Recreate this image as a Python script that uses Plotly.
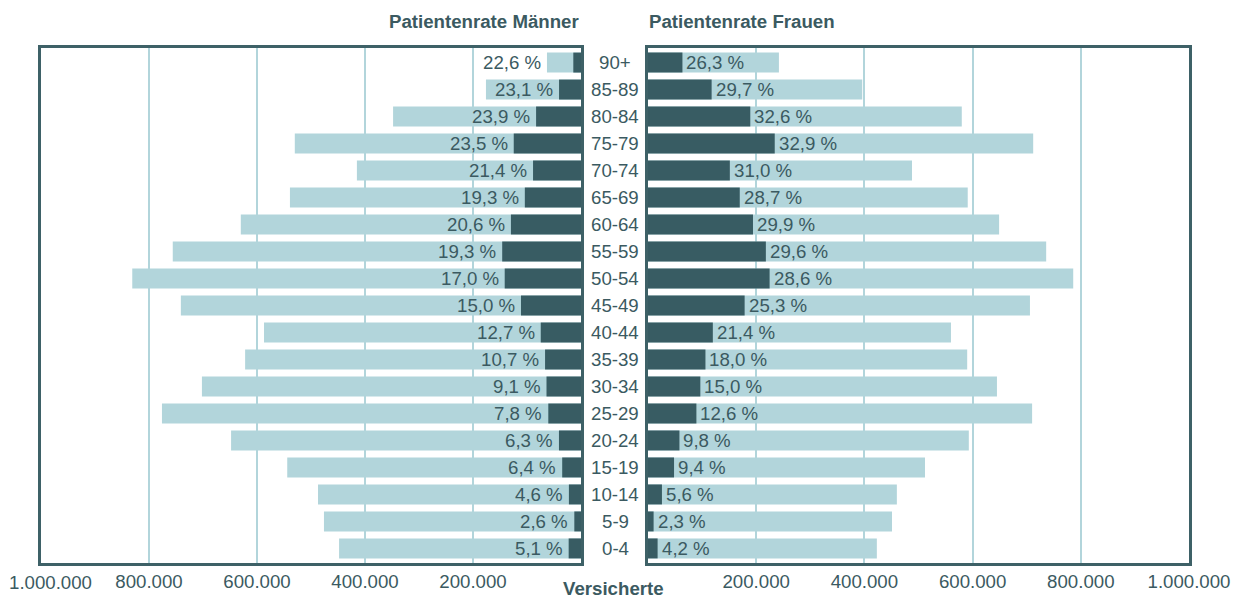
import plotly.graph_objects as go

# ---------------- data ----------------
age_groups = ["0-4", "5-9", "10-14", "15-19", "20-24", "25-29", "30-34", "35-39",
              "40-44", "45-49", "50-54", "55-59", "60-64", "65-69", "70-74",
              "75-79", "80-84", "85-89", "90+"]
insured_men = [448000, 476000, 487000, 544000, 648000, 776000, 702000, 622000,
               587000, 741000, 831000, 756000, 630000, 539000, 415000, 530000,
               348000, 176000, 63000]
insured_women = [423000, 451000, 460000, 512000, 593000, 710000, 645000, 590000,
                 560000, 706000, 786000, 736000, 649000, 591000, 488000, 712000,
                 580000, 396000, 242000]
rate_men = [5.1, 2.6, 4.6, 6.4, 6.3, 7.8, 9.1, 10.7, 12.7, 15.0, 17.0, 19.3,
            20.6, 19.3, 21.4, 23.5, 23.9, 23.1, 22.6]
rate_women = [4.2, 2.3, 5.6, 9.4, 9.8, 12.6, 15.0, 18.0, 21.4, 25.3, 28.6, 29.6,
              29.9, 28.7, 31.0, 32.9, 32.6, 29.7, 26.3]
tick_values = [200000, 400000, 600000, 800000, 1000000]
tick_labels = ["200.000", "400.000", "600.000", "800.000", "1.000.000"]

patients_men = [i * r / 100 for i, r in zip(insured_men, rate_men)]
patients_women = [i * r / 100 for i, r in zip(insured_women, rate_women)]


def fmt(r):
    return f"{r:.1f}".replace(".", ",") + " %"


# ---------------- style ----------------
W, H = 1239, 599
DARK = "#385c63"
LIGHT = "#b2d5db"
TEXT = "#3b5a61"
FRAME = "#3e6167"
FONT = "Liberation Sans, Arial, sans-serif"
FS = 18.67
PX_PER_UNIT = 540 / 1000000   # horizontal pixels per insured person
LABEL_PX = 62                 # approx. width of a percentage label

fig = go.Figure()

# left (men)
fig.add_trace(go.Bar(x=insured_men, y=age_groups, orientation="h", marker_color=LIGHT,
                     marker_line_width=0, width=0.74, xaxis="x", yaxis="y",
                     showlegend=False))
fig.add_trace(go.Bar(x=patients_men, y=age_groups, orientation="h", marker_color=DARK,
                     marker_line_width=0, width=0.74, xaxis="x", yaxis="y",
                     showlegend=False))
# right (women)
fig.add_trace(go.Bar(x=insured_women, y=age_groups, orientation="h", marker_color=LIGHT,
                     marker_line_width=0, width=0.74, xaxis="x2", yaxis="y2",
                     showlegend=False))
fig.add_trace(go.Bar(x=patients_women, y=age_groups, orientation="h", marker_color=DARK,
                     marker_line_width=0, width=0.74, xaxis="x2", yaxis="y2",
                     showlegend=False))

ydom = [36 / H, 551 / H]
xcommon = dict(showline=True, mirror=True, linecolor=FRAME, linewidth=3,
               showgrid=True, gridcolor=LIGHT, gridwidth=2, zeroline=False,
               tickmode="array", tickvals=tick_values, ticktext=tick_labels,
               ticks="", tickfont=dict(size=FS, color=TEXT, family=FONT),
               ticklabeloverflow="allow", automargin=False, fixedrange=True)
ycommon = dict(type="category", categoryorder="array", categoryarray=age_groups,
               range=[-0.54, 18.54], showticklabels=False, showgrid=False,
               zeroline=False, showline=True, mirror=True, linecolor=FRAME,
               linewidth=3, ticks="", domain=ydom, automargin=False,
               fixedrange=True)

fig.update_layout(
    template="none",
    width=W, height=H,
    margin=dict(l=0, r=0, t=0, b=0, autoexpand=False),
    paper_bgcolor="white", plot_bgcolor="white",
    barmode="overlay",
    showlegend=False,
    font=dict(family=FONT, size=FS, color=TEXT),
    xaxis=dict(domain=[41 / W, 581 / W], range=[1000000, 0], anchor="y", **xcommon),
    xaxis2=dict(domain=[648 / W, 1189 / W], range=[0, 1000000], anchor="y2", **xcommon),
    yaxis=dict(anchor="x", **ycommon),
    yaxis2=dict(anchor="x2", **ycommon),
)
# the outermost left tick label is drawn shifted inwards, as in the original
fig.update_xaxes(tickvals=tick_values[:-1], ticktext=tick_labels[:-1], selector=dict(anchor="y"))
fig.add_annotation(x=tick_values[-1], xref="x", y=1 - 582 / H, yref="paper",
                   text=tick_labels[-1], showarrow=False, xanchor="center",
                   yanchor="middle", xshift=9, borderpad=0,
                   font=dict(size=FS, color=TEXT, family=FONT))


def label_anchor(p, ins):
    # label sits next to the patient bar; if it does not fit in the
    # remaining light bar, it is placed beyond the light bar
    if (ins - p) * PX_PER_UNIT < LABEL_PX:
        return ins
    return p


# percentage labels next to the patient bars
for g, p, ins, r in zip(age_groups, patients_men, insured_men, rate_men):
    fig.add_annotation(x=label_anchor(p, ins), y=g, xref="x", yref="y", text=fmt(r),
                       showarrow=False, xanchor="right", yanchor="middle", xshift=-4,
                       font=dict(size=FS, color=TEXT, family=FONT))
for g, p, ins, r in zip(age_groups, patients_women, insured_women, rate_women):
    fig.add_annotation(x=label_anchor(p, ins), y=g, xref="x2", yref="y2", text=fmt(r),
                       showarrow=False, xanchor="left", yanchor="middle", xshift=2,
                       font=dict(size=FS, color=TEXT, family=FONT))

# category labels between panels
for g in age_groups:
    fig.add_annotation(x=615 / W, xref="paper", y=g, yref="y", text=g,
                       showarrow=False, xanchor="center", yanchor="middle",
                       font=dict(size=FS, color=TEXT, family=FONT))

# titles
fig.add_annotation(x=581 / W, y=1 - 22 / H, xref="paper", yref="paper",
                   text="<b>Patientenrate Männer</b>", showarrow=False,
                   xanchor="right", yanchor="middle",
                   font=dict(size=FS, color=TEXT, family=FONT))
fig.add_annotation(x=647 / W, y=1 - 22 / H, xref="paper", yref="paper",
                   text="<b>Patientenrate Frauen</b>", showarrow=False,
                   xanchor="left", yanchor="middle",
                   font=dict(size=FS, color=TEXT, family=FONT))
fig.add_annotation(x=613 / W, y=1 - 588 / H, xref="paper", yref="paper",
                   text="<b>Versicherte</b>", showarrow=False,
                   xanchor="center", yanchor="middle", borderpad=0,
                   font=dict(size=FS, color=TEXT, family=FONT))

fig.write_html("out.html",
               config={"displayModeBar": False},
               post_script="document.body.style.margin='0';"
                           "document.body.style.overflow='hidden';")
